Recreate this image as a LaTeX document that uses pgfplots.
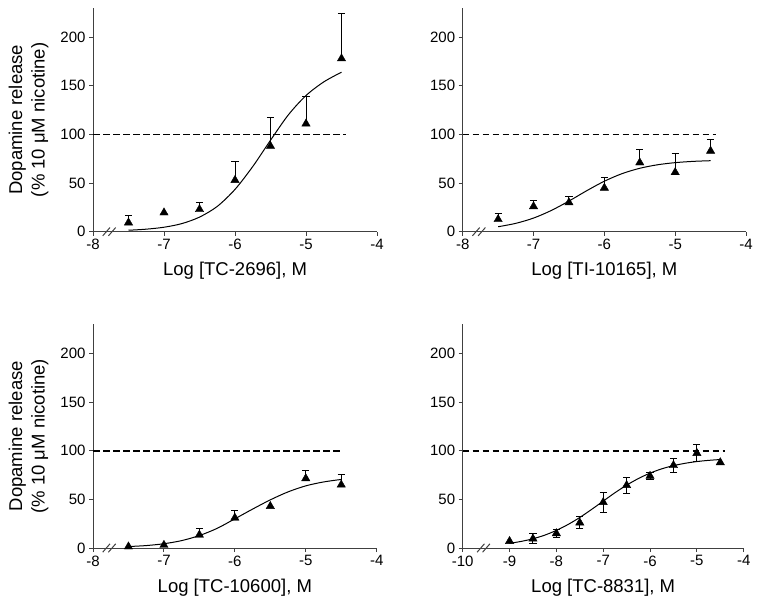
\documentclass[border=0pt]{standalone}
\usepackage{pgfplots}
\pgfplotsset{compat=1.18}
\usepackage{fontspec}
\setmainfont{Liberation Sans}
\tikzset{brk/.style={line width=1pt, black!75}}
\begin{document}
\begin{tikzpicture}[x=1pt,y=1pt]
\path[use as bounding box] (0,0) rectangle (762,-604);
\pgfplotsset{
  panel/.style={
    scale only axis, width=284pt, height=223.7pt,
    anchor=south west,
    xmin=-8, xmax=-4, ymin=0, ymax=230,
    axis x line=bottom, axis y line=left,
    axis line style={-, line width=1pt, black!75},
    tick style={line width=1pt, black!75},
    tick align=outside, major tick length=4pt,
    ytick={0,50,100,150,200},
    xtick={-8,-7,-6,-5,-4},
    minor tick num=0,
    /pgf/number format/assume math mode=true,
    ticklabel style={font=\fontsize{15}{18}\selectfont, black},
    every axis x label/.style={at={(axis description cs:0.5,0)}, anchor=base, yshift=-44pt, font=\fontsize{18.5}{22.5}\selectfont},
    every axis y label/.style={at={(axis description cs:0,0.5)}, anchor=center, xshift=-64.5pt, rotate=90, align=center, font=\fontsize{18.5}{22.5}\selectfont},
    clip=false,
  },
  curve/.style={smooth, line width=1pt, black, no marks},
  refline/.style={line width=1.6pt, black, dash pattern=on 6.5pt off 3.5pt, no marks},
  pts/.style={only marks, mark=triangle*, mark size=4.8pt, black,
    error bars/.cd, y explicit, y dir=plus,
    error bar style={line width=1pt, black},
    error mark options={rotate=90, mark size=3.6pt, line width=1pt, black}},
  ptsboth/.style={only marks, mark=triangle*, mark size=4.8pt, black,
    error bars/.cd, y explicit, y dir=both,
    error bar style={line width=1pt, black},
    error mark options={rotate=90, mark size=3.6pt, line width=1pt, black}},
  plain/.style={only marks, mark=triangle*, mark size=4.8pt, black},
}

% Panel 1: TC-2696
\begin{axis}[panel, at={(93pt,-231.7pt)},
  xlabel={Log [TC-2696], M},
  ylabel={Dopamine release\\(\% 10 μM nicotine)}]
\addplot[refline] coordinates {(-8,100) (-4.43,100)};
\addplot[curve] coordinates {(-7.5,1.5) (-7.25,2.6) (-7,4.6) (-6.75,8.3) (-6.5,15) (-6.25,26) (-6,43.5) (-5.75,67) (-5.5,94) (-5.25,120) (-5,140) (-4.75,154) (-4.5,164)};
\addplot[pts] table[x=x, y=y, y error=e] {
x y e
-7.5 9.3 7.7
-6.5 23 7
-6 53 19
-5.5 88 29
-5 111 28
-4.5 178 46
};
\addplot[plain] coordinates {(-7,19.6)};
\draw[brk] ([xshift=13.3pt]axis cs:-8,0) ++(-3.6pt,-4.2pt) -- ++(7.3pt,8.4pt);
\draw[brk] ([xshift=19pt]axis cs:-8,0) ++(-3.6pt,-4.2pt) -- ++(7.3pt,8.4pt);
\end{axis}

% Panel 2: TI-10165
\begin{axis}[panel, at={(462.7pt,-231.7pt)}, width=283.3pt,
  xlabel={Log [TI-10165], M}]
\addplot[refline] coordinates {(-8,100) (-4.42,100)};
\addplot[curve] coordinates {(-7.5,5.1) (-7.25,8.6) (-7,14) (-6.75,21.8) (-6.5,31.5) (-6.25,42.1) (-6,51.9) (-5.75,59.7) (-5.5,65.2) (-5.25,68.8) (-5,71) (-4.75,72.3) (-4.5,73)};
\addplot[pts] table[x=x, y=y, y error=e] {
x y e
-7.5 12.7 6.3
-7 26 6
-6.5 30 6
-6 45 11
-5.5 71 14
-5 61 19
-4.5 83 12
};
\draw[brk] ([xshift=13.3pt]axis cs:-8,0) ++(-3.6pt,-4.2pt) -- ++(7.3pt,8.4pt);
\draw[brk] ([xshift=19pt]axis cs:-8,0) ++(-3.6pt,-4.2pt) -- ++(7.3pt,8.4pt);
\end{axis}

% Panel 3: TC-10600
\begin{axis}[panel, at={(93pt,-548pt)}, width=283.7pt,
  xlabel={Log [TC-10600], M},
  ylabel={Dopamine release\\(\% 10 μM nicotine)}]
\addplot[refline] coordinates {(-8,100) (-4.49,100)};
\addplot[curve] coordinates {(-7.5,1.5) (-7.25,2.5) (-7,4.4) (-6.75,7.6) (-6.5,12.8) (-6.25,20.2) (-6,30) (-5.75,40) (-5.5,49.5) (-5.25,57.7) (-5,63.9) (-4.75,67.9) (-4.5,70.5)};
\addplot[pts] table[x=x, y=y, y error=e] {
x y e
-6.5 13.5 6.5
-6 31 8
-5 71.5 8.5
-4.5 65 11
};
\addplot[plain] coordinates {(-7.5,1.4) (-7,3) (-5.5,43)};
\draw[brk] ([xshift=13.3pt]axis cs:-8,0) ++(-3.6pt,-4.2pt) -- ++(7.3pt,8.4pt);
\draw[brk] ([xshift=19pt]axis cs:-8,0) ++(-3.6pt,-4.2pt) -- ++(7.3pt,8.4pt);
\end{axis}

% Panel 4: TC-8831
\begin{axis}[panel, at={(462.7pt,-548pt)}, width=281pt,
  xmin=-10, xtick={-10,-9,-8,-7,-6,-5,-4},
  xlabel={Log [TC-8831], M}]
\addplot[refline] coordinates {(-10,100) (-4.41,100)};
\addplot[curve] coordinates {(-9,4.8) (-8.75,6.8) (-8.5,9.5) (-8.25,13.2) (-8,18.1) (-7.75,24.2) (-7.5,31.4) (-7.25,39.6) (-7,48.2) (-6.75,56.8) (-6.5,64.6) (-6.25,71.4) (-6,77) (-5.75,81.4) (-5.5,84.7) (-5.25,87.1) (-5,88.9) (-4.75,90.1) (-4.5,91)};
\addplot[ptsboth] table[x=x, y=y, y error=e] {
x y e
-8.5 9.5 5
-8 15 4
-7.5 26 6
-7 47 10
-6.5 64.5 8
-6 74 4
-5.5 85 7.5
-5 97.5 8.5
};
\addplot[plain] coordinates {(-9,7) (-4.5,88)};
\draw[brk] ([xshift=18pt]axis cs:-10,0) ++(-3.6pt,-4.2pt) -- ++(7.3pt,8.4pt);
\draw[brk] ([xshift=23.5pt]axis cs:-10,0) ++(-3.6pt,-4.2pt) -- ++(7.3pt,8.4pt);
\end{axis}
\end{tikzpicture}
\end{document}
